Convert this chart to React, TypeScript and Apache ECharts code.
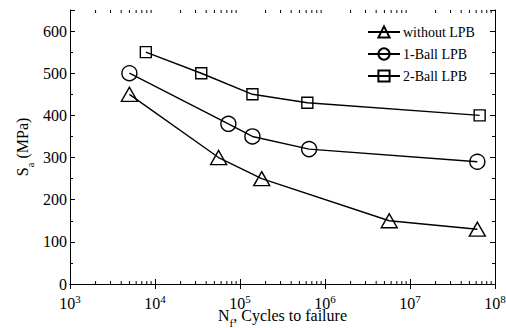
import React, { useEffect, useRef } from "react";
import * as echarts from "echarts";

const seriesNames = ["without LPB", "1-Ball LPB", "2-Ball LPB"];
const cyclesWithout = [5000, 56000, 180000, 5700000, 62000000];
const stressWithout = [450, 300, 250, 150, 130];
const cycles1Ball = [5000, 73000, 140000, 650000, 62000000];
const stress1Ball = [500, 380, 350, 320, 290];
const cycles2Ball = [7800, 35000, 140000, 620000, 66000000];
const stress2Ball = [550, 500, 450, 430, 400];
const decades = [3, 4, 5, 6, 7];
const minorMultipliers = [2, 3, 4, 5, 6, 7, 8, 9];

const FONT = "Liberation Serif";

export default function App() {
  const ref = useRef<HTMLDivElement>(null);
  useEffect(() => {
    if (!ref.current) return;
    const chart = echarts.init(ref.current, undefined, { renderer: "svg" });
    const minorTicks: number[][] = [];
    decades.forEach((d) => minorMultipliers.forEach((m) => minorTicks.push([m * Math.pow(10, d), 0])));
    const pair = (xs: number[], ys: number[]) => xs.map((x, i) => [x, ys[i]]);
    const lineSeries = (name: string, data: number[][], symbol: string, size: number | number[]) => ({
      type: "line",
      name,
      data,
      symbol,
      symbolSize: size,
      lineStyle: { color: "#000", width: 1.4 },
      itemStyle: { color: "rgba(255,255,255,0)", borderColor: "#000", borderWidth: 1.4 },
      xAxisIndex: 0,
      yAxisIndex: 0,
    });
    const axisLine = { show: true, lineStyle: { color: "#000", width: 1 } };
    const nameRich = {
      base: { fontSize: 16, fontFamily: FONT, color: "#000", lineHeight: 16 },
      sub: { fontSize: 11, fontFamily: FONT, color: "#000", lineHeight: 11, padding: [16, 0, 0, 0] },
    };
    chart.setOption({
      animation: false,
      backgroundColor: "#fff",
      textStyle: { fontFamily: FONT },
      grid: { left: 70, right: 11, top: 10, bottom: 44, containLabel: false, outerBoundsMode: "none" },
      legend: {
        data: seriesNames,
        orient: "vertical",
        left: 362,
        top: 20,
        itemWidth: 32,
        itemHeight: 14,
        itemGap: 8,
        textStyle: { fontFamily: FONT, fontSize: 14, color: "#000", padding: [0, 0, 0, -2] },
      },
      xAxis: [
        {
          type: "log",
          logBase: 10,
          min: 1000,
          max: 100000000,
          position: "bottom",
          axisLine,
          axisTick: { show: true, inside: true, length: 5, lineStyle: { color: "#000" } },
          splitLine: { show: false },
          axisLabel: {
            color: "#000",
            fontFamily: FONT,
            fontSize: 16,
            margin: 11,
            formatter: (v: number) => "{base|10}{sup|" + Math.round(Math.log10(v)) + "}",
            rich: {
              base: { fontSize: 16, fontFamily: FONT, color: "#000", lineHeight: 16 },
              sup: { fontSize: 11, fontFamily: FONT, color: "#000", lineHeight: 11, padding: [0, 0, 9, 0] },
            },
          },
          name: "{base|N}{sub|f}{base|, Cycles to failure}",
          nameLocation: "middle",
          nameGap: 23,
          nameMoveOverlap: false,
          nameTextStyle: { color: "#000", fontFamily: FONT, fontSize: 16, rich: nameRich },
        },
        {
          type: "log",
          logBase: 10,
          min: 1000,
          max: 100000000,
          position: "top",
          axisLine,
          axisTick: { show: true, inside: true, length: 5, lineStyle: { color: "#000" } },
          axisLabel: { show: false },
          splitLine: { show: false },
        },
      ],
      yAxis: [
        {
          type: "value",
          min: 0,
          max: 650,
          interval: 100,
          position: "left",
          axisLine,
          axisTick: { show: true, inside: true, length: 5, lineStyle: { color: "#000" } },
          minorTick: { show: true, splitNumber: 2, length: 3, lineStyle: { color: "#000" } },
          splitLine: { show: false },
          axisLabel: {
            color: "#000",
            fontFamily: FONT,
            fontSize: 16,
            margin: 3,
            formatter: (v: number) => (v > 600 ? "" : String(v)),
          },
          name: "{base|S}{sub|a}{base| (MPa)}",
          nameLocation: "middle",
          nameGap: 40,
          nameMoveOverlap: false,
          nameRotate: 90,
          nameTextStyle: { color: "#000", fontFamily: FONT, fontSize: 16, rich: nameRich },
        },
        {
          type: "value",
          min: 0,
          max: 650,
          interval: 100,
          position: "right",
          axisLine,
          axisTick: { show: true, inside: true, length: 5, lineStyle: { color: "#000" } },
          minorTick: { show: true, splitNumber: 2, length: 3, lineStyle: { color: "#000" } },
          splitLine: { show: false },
          axisLabel: { show: false },
        },
      ],
      series: [
        lineSeries(seriesNames[0], pair(cyclesWithout, stressWithout), "triangle", [16, 14]),
        lineSeries(seriesNames[1], pair(cycles1Ball, stress1Ball), "circle", 15),
        lineSeries(seriesNames[2], pair(cycles2Ball, stress2Ball), "rect", 11),
        {
          type: "custom",
          name: "minor",
          silent: true,
          xAxisIndex: 0,
          yAxisIndex: 0,
          data: minorTicks,
          renderItem: (params: any, api: any) => {
            const n = api.value(0);
            const b = api.coord([n, 0]);
            const t = api.coord([n, 650]);
            const style = { stroke: "#000", lineWidth: 1 };
            return {
              type: "group",
              children: [
                { type: "line", shape: { x1: b[0], y1: b[1], x2: b[0], y2: b[1] - 3 }, style },
                { type: "line", shape: { x1: t[0], y1: t[1], x2: t[0], y2: t[1] + 3 }, style },
              ],
            };
          },
        },
      ],
    });
    return () => chart.dispose();
  }, []);
  return <div ref={ref} style={{ width: 506, height: 328, position: "absolute", left: 0, top: 0 }} />;
}
